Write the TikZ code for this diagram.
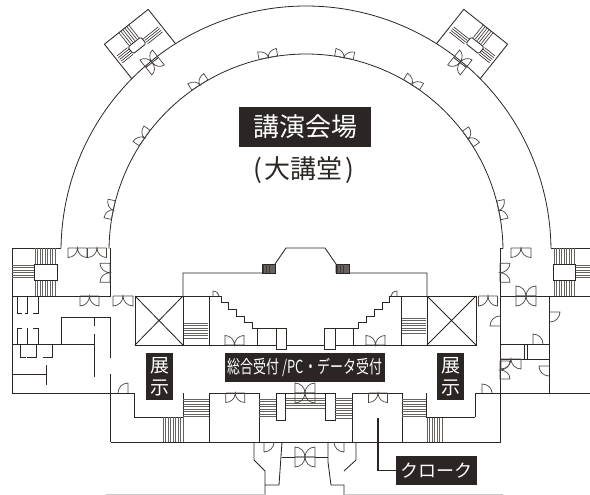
\documentclass[tikz,border=0pt]{standalone}
\usepackage{fontspec}
\newfontfamily\jp{Noto Sans CJK JP}
\definecolor{ink}{HTML}{2B2523}
\definecolor{stairc}{HTML}{666260}
\tikzset{
  wall/.style={draw=ink,line width=0.85pt,line join=miter},
  doorline/.style={draw=ink!85,line width=0.7pt},
  stairline/.style={draw=stairc,line width=1pt},
  labelbox/.style={fill=ink,text=white,inner sep=0pt,align=center},
  leader/.style={draw=ink,line width=1.7pt}
}
% double door: centre, rotation, half width, depth
\newcommand\ddoor[5]{\begin{scope}[shift={(#1,#2)},rotate=#3]
  \draw[doorline] (-#4,0)--(#4,0) (-#4,0)--(-#4,#5) .. controls (-0.45*#4,#5) and (0,0.55*#5) .. (0,0) .. controls (0,0.55*#5) and (0.45*#4,#5) .. (#4,#5)--(#4,0);
\end{scope}}
\newcommand\bdoor[5]{\ddoor{#1}{#2}{#3}{#4}{#5}\ddoor{#1}{#2}{#3+180}{#4}{#5}}
% single door, leaf along the y axis
\newcommand\sdv[4]{\draw[doorline] (#1,#2)--(#1,#2+#4) .. controls (#1+0.55*#3,#2+#4) and (#1+#3,#2+0.55*#4) .. (#1+#3,#2);}
% single door, leaf along the x axis
\newcommand\sdh[4]{\draw[doorline] (#1,#2)--(#1+#3,#2) .. controls (#1+#3,#2+0.55*#4) and (#1+0.55*#3,#2+#4) .. (#1,#2+#4);}
% stairs: lines running horizontally / vertically
\newcommand\sth[4]{\pgfmathsetmacro\stepnext{#2+2.5}\foreach \q in {#2,\stepnext,...,#4}{\draw[stairline] (#1,\q)--(#3,\q);}}
\newcommand\stv[4]{\pgfmathsetmacro\stepnext{#1+2.5}\foreach \q in {#1,\stepnext,...,#3}{\draw[stairline] (\q,#2)--(\q,#4);}}
% stair block on the outer arc
\newcommand\archblock{\begin{scope}[shift={(140,44)},rotate=38.5]
  \draw[wall] (-28,22)--(-28,-22)--(28,-22)--(28,22);
  \foreach \q in {-9.5,-7,...,5}{\draw[draw=ink,line width=.6pt] (\q,-22)--(\q,-6);}
  \foreach \q in {-2,0.2,...,6.5}{\draw[draw=ink,line width=.6pt] (6,\q)--(25,\q);}
  \foreach \q in {-5,-2.8,...,5}{\draw[draw=ink,line width=.6pt] (-25.5,\q)--(-12,\q);}
  \draw[wall,rounded corners=1.5pt] (-11.5,-5) rectangle (5,3.5);
  \bdoor{-2}{22}{0}{8}{9.5}
\end{scope}}
\begin{document}
\begin{tikzpicture}[x=1pt,y=-1pt]
\useasboundingbox (0,0) rectangle (590,495);
% arcs
\draw[wall,line width=.8pt] plot[smooth,domain=179.3:0.7,samples=120] ({306+245*cos(\x)},{251-245*sin(\x)});
\draw[wall,line width=.8pt] plot[smooth,domain=179.3:0.7,samples=120] ({306+197*cos(\x)},{251-197*sin(\x)});
% doors on the inner arc
\foreach \a in {168,145,122.6,101,78.9,57.6,34.7,11.9}{
  \pgfmathsetmacro\dx{306+197*cos(\a)}
  \pgfmathsetmacro\dy{251-197*sin(\a)}
  \pgfmathsetmacro\dr{\a+90}
  \ddoor{\dx}{\dy}{\dr}{9.5}{7.5}
}
% stair blocks on the outer arc
\archblock
\begin{scope}[shift={(612,0)},xscale=-1]\archblock\end{scope}
% ---------- left wing
\draw[wall] (61,248)--(12,248)--(12,393)--(134,393)--(134,417)--(183,417)--(183,393);
\draw[wall] (110,248)--(110,296)--(12,296);
\sth{12}{265}{34}{279}
\stv{35}{248}{55}{264}
\stv{35}{280}{55}{296}
\fill[white] (34,264) rectangle (57,280);
\draw[wall,line width=.9pt] (34,264) rectangle (57,280);
\ddoor{77.5}{248}{0}{9.5}{9.5}
\ddoor{97}{248}{0}{9.5}{9.5}
\ddoor{110}{272.7}{-90}{9.5}{10}
\ddoor{89.5}{296}{0}{9.5}{10}
\ddoor{123}{296}{0}{10}{10}
% small cubicles
\draw[wall] (17,296)--(17,313)--(22,313) (25,313)--(28,313) (27,296)--(27,313) (33,313)--(38,313)--(38,296);
\draw[wall] (22,328)--(17,328)--(17,344) (27,328)--(27,344) (33,328)--(38,328)--(38,344);
\draw[wall] (20,344)--(20,357)--(26,357) (27,357)--(36,357)--(36,344) (43,357)--(52,357)--(52,344);
\draw[wall] (12,344)--(94,344);
\draw[wall] (61,344)--(61,317)--(110,317)--(110,358);
\draw[wall] (94,317)--(94,326) (94,334)--(94,377);
\draw[wall] (110,374)--(110,442);
\draw[wall] (12,374)--(46,374) (46,365)--(46,385);
\sdv{128}{393}{-10}{-10}
% ---------- central block
\draw[wall] (135,296) rectangle (183,345);
\draw[wall] (135,296)--(183,345) (183,296)--(135,345);
\draw[wall] (183,297)--(183,273)--(262,273) (275,273)--(275,264)--(286,248)--(325,248)--(336,264)--(336,273) (349,273)--(427,273)--(427,296);
\foreach \bx in {262,336}{
  \fill[stairc] (\bx,264) rectangle (\bx+13,273);
  \draw[ink,line width=.6pt] (\bx,264) rectangle (\bx+13,273);
  \draw[ink!90,line width=1pt] (\bx+1.5,264)--(\bx+1.5,273) (\bx+4,264)--(\bx+4,273) (\bx+7,264)--(\bx+7,273);
}
\draw[wall] (183,296)--(221,296)--(221,302)--(228,302)--(228,309)--(236,309)--(236,316)--(244,316)--(244,322)--(252,322)--(252,328)--(276,328);
\draw[wall] (209,296)--(209,345) (257,328)--(257,345);
\draw[wall] (183,345)--(276,345) (286,345)--(324,345) (335,345)--(427,345);
\draw[wall] (276,328) rectangle (286,349);
\draw[wall] (324,328) rectangle (335,349);
\draw[wall] (335,328)--(358,328)--(358,322)--(366,322)--(366,316)--(374,316)--(374,309)--(382,309)--(382,302)--(389,302)--(389,296)--(427,296);
\draw[wall] (353,328)--(353,345) (401,296)--(401,345);
\sth{184}{323}{208}{340}
\sth{402}{318}{426}{335}
\sdv{213}{296}{6}{-5}
\sdv{397}{296}{-6}{-5}
\ddoor{234.5}{345}{180}{9.5}{9.5}
\ddoor{375.5}{345}{180}{9.5}{9.5}
\draw[wall] (427,296) rectangle (476,345);
\draw[wall] (427,296)--(476,345) (476,296)--(427,345);
% ---------- right wing
\draw[wall] (551,248)--(590,248) (503,248)--(500,248)--(500,442)--(111,442);
\draw[wall] (500,296)--(590,296);
\draw[wall] (549,296)--(549,393);
\draw[wall] (500,344)--(549,344) (500,359)--(549,359);
\draw[wall] (524,344)--(524,359) (527,344)--(527,359);
\draw[wall] (475,417)--(475,393)--(590,393);
\stv{554}{248}{574}{264}
\stv{554}{280}{574}{296}
\sth{575}{265}{590}{279}
\draw[wall] (553,264) rectangle (575,280);
\ddoor{521}{248}{0}{10}{9.5}
\ddoor{500}{272.7}{90}{9.5}{10}
\ddoor{488}{296}{0}{9.5}{10}
\bdoor{526}{296}{0}{10}{10}
\ddoor{511}{359}{0}{10}{10}
\ddoor{500}{370}{90}{9}{10}
\sdh{500}{326}{-10}{-10}
\sdh{550}{312}{10}{10}
\sdh{549}{366}{-10}{10}
\sdv{533}{344}{10}{-10}
\sdv{482}{393}{10}{-9}
% ---------- south front
\sth{183}{399}{209}{417}
\stv{163}{417}{183}{442}
\draw[wall] (209,442)--(209,393)--(259,393)--(259,442);
\ddoor{235.3}{393}{0}{9.5}{9.5}
\sth{259}{399}{276}{418}
\sth{285}{398}{325}{408}
\draw[wall] (276,393) rectangle (285,420);
\draw[wall] (325,393) rectangle (335,420);
\draw[wall,line width=.6pt] (285,393)--(325,393);
\bdoor{305}{393}{0}{10}{10}
\sth{335}{398}{352}{418}
\draw[wall] (352,442)--(352,393)--(402,393)--(402,442);
\ddoor{378}{393}{0}{9.5}{9.5}
\sth{402}{399}{426}{417}
\stv{427}{417}{443}{442}
\draw[wall] (426,393)--(426,417)--(475,417);
% ---------- entrance
\draw[wall] (254,442)--(254,460)--(265,471)--(265,495) (265,485)--(279,485)--(282,442);
\draw[wall] (328,442)--(328,462)--(331,485)--(344,485)--(344,495) (344,471)--(356,460)--(356,442);
\draw[wall] (282,457)--(295,457) (315,457)--(328,457);
\bdoor{305}{457}{0}{10}{10}
\sdv{264}{442}{10}{10}
\sdv{344}{442}{-10}{10}
\draw[draw=ink!25,line width=.8pt] (106,494)--(265,494) (344,494)--(503,494);
% ---------- labels
\node[labelbox,minimum width=132pt,minimum height=40pt,font=\fontsize{26}{26}\selectfont\jp] (hall) at (305,127) {講演会場};
\node[text=ink,inner sep=0pt,font=\fontsize{26}{26}\selectfont\jp] (sub) at (304,170) {(\kern3pt 大講堂\kern3pt)};
\node[labelbox,minimum width=27pt,minimum height=47pt,font=\fontsize{19}{22}\selectfont\jp] (exL) at (159.5,376.5) {展\\示};
\node[labelbox,minimum width=27pt,minimum height=47pt,font=\fontsize{19}{22}\selectfont\jp] (exR) at (450.5,376.5) {展\\示};
\node[labelbox,minimum width=160pt,minimum height=29pt,font=\fontsize{18}{18}\selectfont\jp] (recv) at (305,367.5) {\scalebox{0.72}[1]{総合受付 /PC・データ受付}};
\node[labelbox,minimum width=81pt,minimum height=29pt,font=\fontsize{18}{18}\selectfont\jp] (cloak) at (436.5,470.5) {クローク};
\coordinate (leadtop) at (378,418);
\draw[leader] (leadtop) |- (cloak.west);
\end{tikzpicture}
\end{document}
